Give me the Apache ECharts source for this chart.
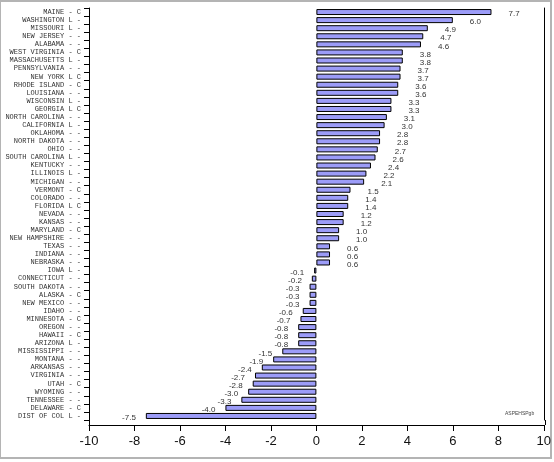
<!DOCTYPE html>
<html>
<head>
<meta charset="utf-8">
<script src="https://cdn.jsdelivr.net/npm/echarts@6/dist/echarts.min.js"></script>
<style>
  html, body { margin: 0; padding: 0; background: #fff; }
  #chart { width: 554px; height: 462px; }
</style>
</head>
<body>
<div id="chart"></div>
<script>
const categories = [
  'MAINE - C', 'WASHINGTON L -', 'MISSOURI L -', 'NEW JERSEY - -', 'ALABAMA - -',
  'WEST VIRGINIA - C', 'MASSACHUSETTS L -', 'PENNSYLVANIA - -', 'NEW YORK L C', 'RHODE ISLAND - C',
  'LOUISIANA - -', 'WISCONSIN L -', 'GEORGIA L C', 'NORTH CAROLINA - -', 'CALIFORNIA L -',
  'OKLAHOMA - -', 'NORTH DAKOTA - -', 'OHIO - -', 'SOUTH CAROLINA L -', 'KENTUCKY - -',
  'ILLINOIS L -', 'MICHIGAN - -', 'VERMONT - C', 'COLORADO - -', 'FLORIDA L C',
  'NEVADA - -', 'KANSAS - -', 'MARYLAND - C', 'NEW HAMPSHIRE - -', 'TEXAS - -',
  'INDIANA - -', 'NEBRASKA - -', 'IOWA L -', 'CONNECTICUT - -', 'SOUTH DAKOTA - -',
  'ALASKA - C', 'NEW MEXICO - -', 'IDAHO - -', 'MINNESOTA - C', 'OREGON - -',
  'HAWAII - C', 'ARIZONA L -', 'MISSISSIPPI - -', 'MONTANA - -', 'ARKANSAS - -',
  'VIRGINIA - -', 'UTAH - C', 'WYOMING - -', 'TENNESSEE - -', 'DELAWARE - C',
  'DIST OF COL L -'
]

const values = [
  7.7, 6.0, 4.9, 4.7, 4.6,
  3.8, 3.8, 3.7, 3.7, 3.6,
  3.6, 3.3, 3.3, 3.1, 3.0,
  2.8, 2.8, 2.7, 2.6, 2.4,
  2.2, 2.1, 1.5, 1.4, 1.4,
  1.2, 1.2, 1.0, 1.0, 0.6,
  0.6, 0.6, -0.1, -0.2, -0.3,
  -0.3, -0.3, -0.6, -0.7, -0.8,
  -0.8, -0.8, -1.5, -1.9, -2.4,
  -2.7, -2.8, -3.0, -3.3, -4.0,
  -7.5
]

const xTicks = { min: -10, max: 10, interval: 2 }

const chart = echarts.init(document.getElementById('chart'))

chart.setOption({
  animation: false,
  backgroundColor: '#fff',
  grid: { left: 89, right: 9, top: 8, bottom: 42 },
  xAxis: {
    type: 'value',
    min: xTicks.min,
    max: xTicks.max,
    interval: xTicks.interval,
    offset: 5,
    axisLine: { show: true, lineStyle: { color: '#000', width: 1 } },
    axisTick: { show: true, length: 6, lineStyle: { color: '#000' } },
    axisLabel: { color: '#111', fontFamily: 'Liberation Sans', fontSize: 13, margin: 10 },
    splitLine: { show: false }
  },
  yAxis: [{
    type: 'category',
    data: categories,
    inverse: true,
    position: 'left',
    axisLine: { show: true, onZero: false, lineStyle: { color: '#000', width: 1 } },
    axisTick: { show: true, length: 5, lineStyle: { color: '#000' } },
    axisLabel: {
      color: '#333',
      fontFamily: 'Liberation Mono',
      fontSize: 7,
      margin: 8,
      interval: 0
    },
    splitLine: { show: false }
  }, {
    type: 'category',
    data: categories,
    inverse: true,
    position: 'right',
    axisLine: { show: true, onZero: false, lineStyle: { color: '#000', width: 1 } },
    axisTick: { show: false },
    axisLabel: { show: false },
    splitLine: { show: false }
  }],
  series: [{
    type: 'bar',
    data: values.map(v => ({
      value: v,
      label: { position: v < 0 ? 'left' : 'right', distance: v < 0 ? 10 : 17 }
    })),
    barWidth: 6,
    itemStyle: { color: '#9c9cf8', borderColor: '#000', borderWidth: 1 },
    label: {
      show: true,
      color: '#333',
      fontFamily: 'Liberation Sans',
      fontSize: 8,
      offset: [0, 2],
      formatter: p => p.value.toFixed(1)
    }
  }],
  graphic: [
    // outer grey frame
    {
      type: 'rect',
      shape: { x: 0, y: 1, width: 551, height: 457 },
      style: { fill: 'none', stroke: '#b4b4b4', lineWidth: 2 },
      silent: true
    },
    // join the side lines down to the offset x axis
    { type: 'line', shape: { x1: 89.5, y1: 420, x2: 89.5, y2: 425 }, style: { stroke: '#000', lineWidth: 1 } },
    { type: 'line', shape: { x1: 545.5, y1: 420, x2: 545.5, y2: 425 }, style: { stroke: '#000', lineWidth: 1 } },
    {
      type: 'text',
      left: 505,
      top: 411,
      style: { text: 'ASPEHSPgb', fontSize: 5, fill: '#444', fontFamily: 'Liberation Sans' }
    }
  ]
})
</script>
</body>
</html>
